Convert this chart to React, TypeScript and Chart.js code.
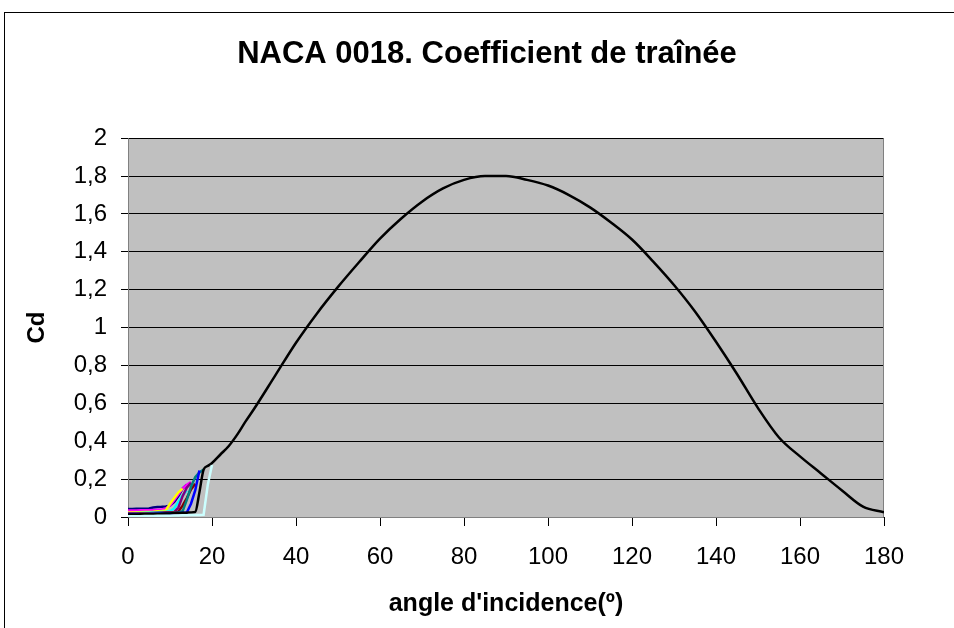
import React, { useEffect, useRef } from 'react';
import { Chart, registerables } from 'chart.js';

Chart.register(...registerables);

const TITLE = 'NACA 0018. Coefficient de traînée';
const X_TITLE = "angle d'incidence(º)";
const Y_TITLE = 'Cd';

const xTickLabels = ['0', '20', '40', '60', '80', '100', '120', '140', '160', '180'];
const yTickLabels = ['0', '0,2', '0,4', '0,6', '0,8', '1', '1,2', '1,4', '1,6', '1,8', '2'];

// Angles (degrees) of the low-incidence tables
const lowAngles = [0, 1, 2, 3, 4, 5, 6, 7, 8, 9, 10, 11, 12, 13, 14, 15, 16, 17, 18, 19, 20];

// Low-incidence drag coefficients, one series per Reynolds number
const cdNavy = [0.042, 0.042, 0.043, 0.043, 0.044, 0.045, 0.05, 0.053, 0.054, 0.056, 0.06, 0.08, 0.11, 0.15, 0.17];
const cdMagenta = [0.034, 0.034, 0.034, 0.035, 0.035, 0.036, 0.037, 0.038, 0.04, 0.045, 0.06, 0.09, 0.12, 0.15, 0.17, 0.185];
const cdYellow = [0.024, 0.024, 0.025, 0.025, 0.026, 0.027, 0.028, 0.03, 0.032, 0.035, 0.07, 0.1, 0.13, 0.15];
const cdCyan = [0.02, 0.02, 0.021, 0.021, 0.022, 0.023, 0.024, 0.025, 0.027, 0.028, 0.03, 0.045, 0.08, 0.115, 0.14];
const cdPurple = [0.018, 0.018, 0.018, 0.019, 0.019, 0.02, 0.021, 0.022, 0.023, 0.024, 0.025, 0.026, 0.05, 0.11, 0.155, 0.18];
const cdDarkRed = [0.016, 0.016, 0.016, 0.017, 0.017, 0.018, 0.019, 0.02, 0.021, 0.022, 0.023, 0.025, 0.028, 0.06, 0.1, 0.145, 0.175];
const cdTeal = [0.015, 0.015, 0.015, 0.016, 0.016, 0.017, 0.017, 0.018, 0.019, 0.02, 0.021, 0.022, 0.024, 0.03, 0.09, 0.16, 0.21, 0.235, 0.25];
const cdBlue = [0.014, 0.014, 0.014, 0.015, 0.015, 0.016, 0.016, 0.017, 0.018, 0.018, 0.019, 0.02, 0.021, 0.022, 0.024, 0.07, 0.14, 0.245];
const cdLightCyan = [0.004, 0.004, 0.004, 0.004, 0.005, 0.005, 0.005, 0.006, 0.006, 0.007, 0.007, 0.008, 0.008, 0.009, 0.009, 0.01, 0.01, 0.011, 0.012, 0.17, 0.275];

// Full-range series (0 to 180 degrees)
const mainAngles = [
  0, 1, 2, 3, 4, 5, 6, 7, 8, 9, 10, 11, 12, 13, 14, 15, 16, 17, 18, 19, 20,
  22, 24, 26, 28,
  30, 35, 40, 45, 50, 55, 60, 65, 70, 75, 80, 85, 90, 95, 100, 105, 110, 115, 120,
  125, 130, 135, 140, 145, 150, 155, 160, 165, 170, 175, 180,
];
const cdMain = [
  0.013, 0.013, 0.013, 0.014, 0.014, 0.015, 0.015, 0.016, 0.017, 0.018, 0.019, 0.02, 0.021, 0.022, 0.023, 0.024, 0.026, 0.13, 0.25, 0.27, 0.285,
  0.33, 0.375, 0.435, 0.505,
  0.57, 0.745, 0.92, 1.075, 1.215, 1.345, 1.47, 1.575, 1.665, 1.735, 1.78, 1.8, 1.8, 1.78, 1.75, 1.7, 1.635, 1.555, 1.465,
  1.35, 1.225, 1.085, 0.925, 0.755, 0.575, 0.42, 0.32, 0.23, 0.14, 0.055, 0.025,
];

const seriesColors = ['#000080', '#FF00FF', '#FFFF00', '#00FFFF', '#800080', '#800000', '#008080', '#0000FF', '#000000', '#CCFFFF'];

const FONT = "'Liberation Sans', Arial, Helvetica, sans-serif";
const CANVAS_W = 974;
const CANVAS_H = 628;

function pts(xs: number[], ys: number[]) {
  return ys.map((y, i) => ({ x: xs[i], y }));
}

const framePlugin = {
  id: 'framePlugin',
  beforeDraw(chart: any) {
    const { ctx, chartArea: a } = chart;
    ctx.save();
    ctx.fillStyle = '#ffffff';
    ctx.fillRect(0, 0, chart.width, chart.height);
    ctx.strokeStyle = '#000000';
    ctx.lineWidth = 1;
    ctx.strokeRect(4.5, 12.5, chart.width + 40, chart.height + 40);
    ctx.fillStyle = '#C0C0C0';
    ctx.fillRect(a.left, a.top, a.right - a.left, a.bottom - a.top);
    ctx.restore();
  },
  beforeDatasetsDraw(chart: any) {
    const { ctx, chartArea: a } = chart;
    ctx.save();
    ctx.strokeStyle = '#808080';
    ctx.lineWidth = 1;
    ctx.beginPath();
    ctx.moveTo(a.left + 0.5, a.top);
    ctx.lineTo(a.left + 0.5, a.bottom + 0.5);
    ctx.lineTo(a.right - 0.5, a.bottom + 0.5);
    ctx.lineTo(a.right - 0.5, a.top);
    ctx.stroke();
    ctx.restore();
  },
};

export default function App() {
  const ref = useRef<HTMLCanvasElement | null>(null);

  useEffect(() => {
    if (!ref.current) return;
    const lowSeries = [cdNavy, cdMagenta, cdYellow, cdCyan, cdPurple, cdDarkRed, cdTeal, cdBlue];
    const datasets: any[] = lowSeries.map((cd, i) => ({
      label: 'S' + (i + 1),
      data: pts(lowAngles, cd),
      borderColor: seriesColors[i],
      borderWidth: 2.5,
      pointRadius: 0,
      tension: 0,
      order: 20 - i,
    }));
    datasets.push({
      label: 'S9',
      data: pts(mainAngles, cdMain),
      borderColor: seriesColors[8],
      borderWidth: 2.5,
      pointRadius: 0,
      cubicInterpolationMode: 'monotone',
      order: 20 - 8,
    });
    datasets.push({
      label: 'S10',
      data: pts(lowAngles, cdLightCyan),
      borderColor: seriesColors[9],
      borderWidth: 2.5,
      pointRadius: 0,
      tension: 0,
      order: 20 - 9,
    });

    const chart = new Chart(ref.current, {
      type: 'line',
      data: { datasets },
      plugins: [framePlugin],
      options: {
        animation: false,
        responsive: false,
        devicePixelRatio: 1,
        layout: { padding: { left: 0, right: 0, top: 0, bottom: 0 } },
        plugins: {
          legend: { display: false },
          tooltip: { enabled: false },
          title: {
            display: true,
            text: TITLE,
            color: '#000',
            font: { family: FONT, size: 31, weight: 'bold' },
            padding: { top: 36, bottom: 65 },
          },
        },
        scales: {
          x: {
            type: 'linear',
            min: 0,
            max: 180,
            border: { display: false },
            grid: {
              display: true,
              drawOnChartArea: false,
              drawTicks: true,
              tickLength: 9,
              color: '#000',
              tickColor: '#000',
            },
            ticks: {
              stepSize: 20,
              autoSkip: false,
              maxRotation: 0,
              padding: 17,
              color: '#000',
              font: { family: FONT, size: 24 },
              callback: (_v: any, i: number) => xTickLabels[i],
            },
            title: {
              display: true,
              text: X_TITLE,
              color: '#000',
              font: { family: FONT, size: 25, weight: 'bold' },
              padding: { top: 0, bottom: 9 },
            },
            afterFit: (s: any) => {
              s.height = 111;
            },
          },
          y: {
            type: 'linear',
            min: 0,
            max: 2,
            border: { display: false },
            grid: {
              display: true,
              drawOnChartArea: true,
              drawTicks: true,
              tickLength: 7,
              color: '#000',
              tickColor: '#000',
            },
            ticks: {
              stepSize: 0.2,
              autoSkip: false,
              padding: 14,
              color: '#000',
              font: { family: FONT, size: 24 },
              callback: (_v: any, i: number) => yTickLabels[i],
            },
            title: {
              display: true,
              text: Y_TITLE,
              color: '#000',
              font: { family: FONT, size: 24, weight: 'bold' },
              padding: { top: 23, bottom: 0 },
            },
            afterFit: (s: any) => {
              s.width = 128;
            },
          },
          yRight: {
            type: 'linear',
            position: 'right',
            display: true,
            min: 0,
            max: 2,
            border: { display: false },
            grid: { display: false, drawOnChartArea: false, drawTicks: false },
            ticks: { display: false },
            afterFit: (s: any) => {
              s.width = CANVAS_W - 884;
            },
          },
        },
      },
    });
    return () => chart.destroy();
  }, []);

  return (
    <div style={{ position: 'absolute', left: 0, top: 0, width: 954, height: 628, overflow: 'hidden' }}>
      <canvas
        ref={ref}
        width={CANVAS_W}
        height={CANVAS_H}
        style={{ display: 'block', width: CANVAS_W, height: CANVAS_H }}
      />
    </div>
  );
}
